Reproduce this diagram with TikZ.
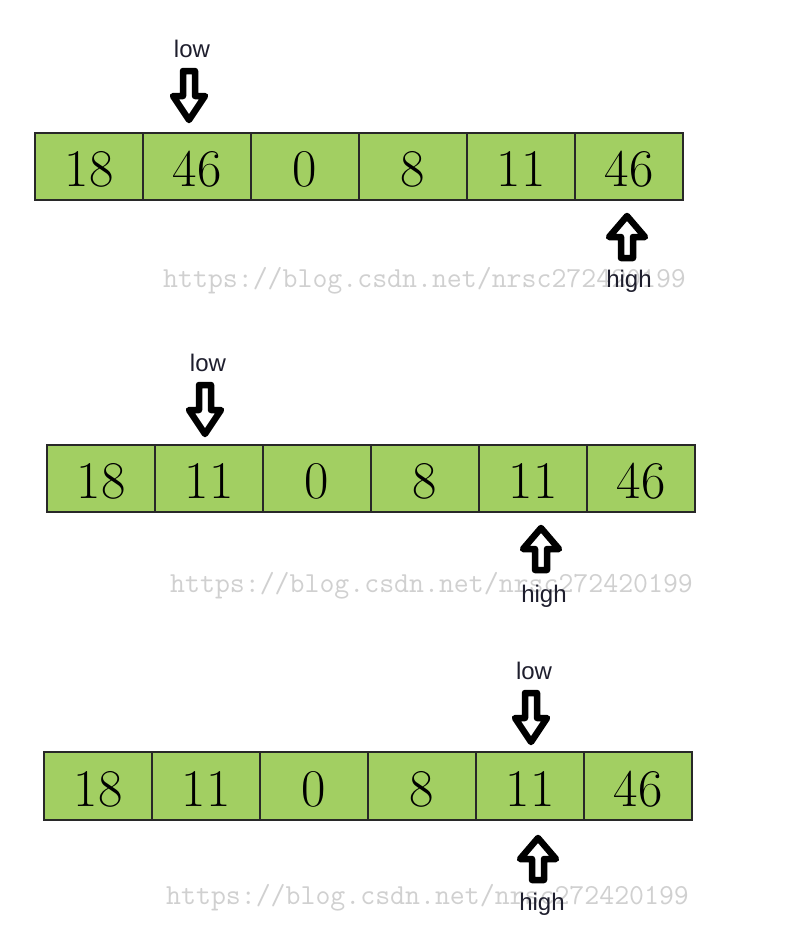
\documentclass[tikz,border=0pt]{standalone}
\usepackage{fontspec}
\newfontfamily\lblfont{Liberation Sans}
\definecolor{cellgreen}{RGB}{162,207,98}
\definecolor{cellline}{RGB}{40,40,40}
\definecolor{wmgray}{RGB}{208,208,208}
\definecolor{lbltext}{RGB}{30,30,45}
\begin{document}
\begin{tikzpicture}[x=1pt,y=-1pt,
  cell/.style={draw=cellline,line width=1.3pt,fill=cellgreen,minimum width=108pt,
    minimum height=67pt,inner sep=0pt,outer sep=0pt,anchor=north west,
    font=\fontsize{53}{53}\selectfont,text height=40pt,text depth=0pt},
  wm/.style={text=wmgray,font=\ttfamily\fontsize{29}{30}\selectfont,inner sep=0pt,anchor=base west},
  lbl/.style={text=lbltext,font=\lblfont\fontsize{24}{26}\selectfont,inner sep=0pt,anchor=base},
  blk/.style={draw=black,line width=6.5pt,line join=round,fill=white},
  downarr/.pic={\path[blk] (0,0) -- (16,-24) -- (6,-24) -- (6,-49) -- (-6,-49) -- (-6,-24) -- (-16,-24) -- cycle;},
  uparr/.pic={\path[blk] (0,0) -- (18,21) -- (6,21) -- (6,42) -- (-6,42) -- (-6,21) -- (-18,21) -- cycle;}
]
\useasboundingbox (0,0) rectangle (796,945);
\fill[white] (0,0) rectangle (796,945);

% watermarks
\node[wm] (wm1) at (163,287) {https://blog.csdn.net/nrsc272420199};
\node[wm] (wm2) at (170,592) {https://blog.csdn.net/nrsc272420199};
\node[wm] (wm3) at (166,904) {https://blog.csdn.net/nrsc272420199};

% row 1
\foreach \v [count=\i from 0] in {18,46,0,8,11,46}
  \node[cell] (ra\i) at ({35+108*\i},133) {\v};
% row 2
\foreach \v [count=\i from 0] in {18,11,0,8,11,46}
  \node[cell] (rb\i) at ({47+108*\i},445) {\v};
% row 3
\foreach \v [count=\i from 0] in {18,11,0,8,11,46}
  \node[cell,minimum height=68pt] (rc\i) at ({44+108*\i},752) {\v};

% arrows
\pic (lowa) at (189,120) {downarr};
\pic (higha) at (627,216) {uparr};
\pic (lowb) at (205,434) {downarr};
\pic (highb) at (541,528) {uparr};
\pic (lowc) at (531,742) {downarr};
\pic (highc) at (538,838) {uparr};

% labels
\node[lbl] (tlowa) at (192,57) {low};
\node[lbl] (thigha) at (629,287) {high};
\node[lbl] (tlowb) at (208,371) {low};
\node[lbl] (thighb) at (544,602) {high};
\node[lbl] (tlowc) at (534,679) {low};
\node[lbl] (thighc) at (542,910) {high};
\end{tikzpicture}
\end{document}
